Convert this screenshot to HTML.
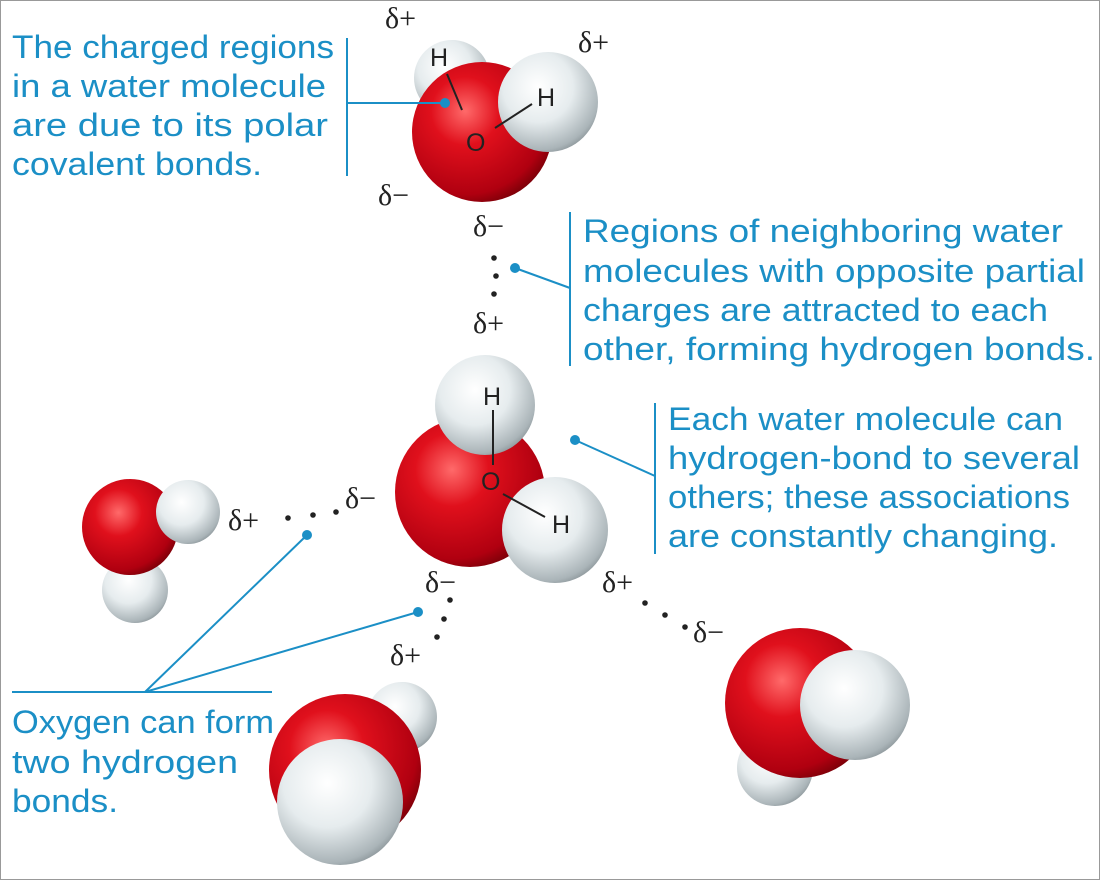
<!DOCTYPE html>
<html><head><meta charset="utf-8"><style>
html,body{margin:0;padding:0;background:#fff}
svg{display:block}
.cap{font-family:"Liberation Sans",sans-serif;font-size:32px;fill:#1b8fc6}
.d{font-family:"Liberation Serif",serif;font-size:30px;fill:#222}
.a{font-family:"Liberation Sans",sans-serif;font-size:25px;fill:#222}
</style></head><body>
<svg width="1100" height="880" viewBox="0 0 1100 880">
<defs>
<radialGradient id="red" cx="0.38" cy="0.35" r="0.7">
<stop offset="0" stop-color="#ff6a6a"/><stop offset="0.35" stop-color="#e0101c"/><stop offset="0.85" stop-color="#b00010"/><stop offset="1" stop-color="#7a0008"/></radialGradient>
<radialGradient id="wh" cx="0.4" cy="0.35" r="0.7">
<stop offset="0" stop-color="#ffffff"/><stop offset="0.5" stop-color="#e6ecee"/><stop offset="0.9" stop-color="#aab4b8"/><stop offset="1" stop-color="#8a9498"/></radialGradient>
</defs>
<rect x="0.5" y="0.5" width="1099" height="879" fill="#fff" stroke="#999"/>

<g>
<circle cx="452" cy="78" r="38" fill="url(#wh)"/>
<circle cx="482" cy="132" r="70" fill="url(#red)"/>
<circle cx="548" cy="102" r="50" fill="url(#wh)"/>
<text class="a" x="430" y="66">H</text><text class="a" x="537" y="106">H</text><text class="a" x="466" y="151">O</text>
<line x1="447" y1="74" x2="462" y2="110" stroke="#222" stroke-width="2"/>
<line x1="532" y1="104" x2="495" y2="128" stroke="#222" stroke-width="2"/>
</g>
<g>
<circle cx="470" cy="492" r="75" fill="url(#red)"/>
<circle cx="485" cy="405" r="50" fill="url(#wh)"/>
<circle cx="555" cy="530" r="53" fill="url(#wh)"/>
<text class="a" x="483" y="405">H</text><text class="a" x="552" y="533">H</text><text class="a" x="481" y="490">O</text>
<line x1="493" y1="410" x2="493" y2="465" stroke="#222" stroke-width="2"/>
<line x1="503" y1="494" x2="545" y2="517" stroke="#222" stroke-width="2"/>
</g>
<g>
<circle cx="135" cy="590" r="33" fill="url(#wh)"/>
<circle cx="130" cy="527" r="48" fill="url(#red)"/>
<circle cx="188" cy="512" r="32" fill="url(#wh)"/>
</g>
<g>
<circle cx="402" cy="717" r="35" fill="url(#wh)"/>
<circle cx="345" cy="770" r="76" fill="url(#red)"/>
<circle cx="340" cy="802" r="63" fill="url(#wh)"/>
</g>
<g>
<circle cx="775" cy="768" r="38" fill="url(#wh)"/>
<circle cx="800" cy="703" r="75" fill="url(#red)"/>
<circle cx="855" cy="705" r="55" fill="url(#wh)"/>
</g>

<g>
<text class="d" x="385" y="28">δ+</text><text class="d" x="578" y="52">δ+</text>
<text class="d" x="378" y="205">δ−</text><text class="d" x="473" y="236">δ−</text>
<text class="d" x="473" y="333">δ+</text><text class="d" x="228" y="530">δ+</text>
<text class="d" x="345" y="508">δ−</text><text class="d" x="425" y="592">δ−</text>
<text class="d" x="390" y="665">δ+</text><text class="d" x="602" y="592">δ+</text>
<text class="d" x="693" y="642">δ−</text>
</g>
<g fill="#222">
<circle cx="494" cy="258" r="2.8"/><circle cx="496" cy="276" r="2.8"/><circle cx="494" cy="294" r="2.8"/>
<circle cx="288" cy="518" r="2.8"/><circle cx="313" cy="515" r="2.8"/><circle cx="336" cy="512" r="2.8"/>
<circle cx="450" cy="600" r="2.8"/><circle cx="444" cy="619" r="2.8"/><circle cx="437" cy="637" r="2.8"/>
<circle cx="645" cy="603" r="2.8"/><circle cx="665" cy="615" r="2.8"/><circle cx="685" cy="627" r="2.8"/>
</g>

<g stroke="#1b8fc6" stroke-width="2" fill="none">
<line x1="347" y1="38" x2="347" y2="176"/><line x1="347" y1="103" x2="445" y2="103"/>
<line x1="570" y1="212" x2="570" y2="366"/><line x1="570" y1="288" x2="515" y2="268"/>
<line x1="655" y1="403" x2="655" y2="554"/><line x1="655" y1="476" x2="575" y2="440"/>
<line x1="12" y1="692" x2="272" y2="692"/><line x1="145" y1="692" x2="307" y2="535"/><line x1="145" y1="692" x2="418" y2="612"/>
</g>
<g fill="#1b8fc6">
<circle cx="445" cy="103" r="5"/><circle cx="515" cy="268" r="5"/><circle cx="575" cy="440" r="5"/>
<circle cx="307" cy="535" r="5"/><circle cx="418" cy="612" r="5"/>
</g>

<text class="cap">
<tspan x="12" y="58" textLength="322" lengthAdjust="spacingAndGlyphs">The charged regions</tspan><tspan x="12" y="97" textLength="314" lengthAdjust="spacingAndGlyphs">in a water molecule</tspan><tspan x="12" y="136" textLength="316" lengthAdjust="spacingAndGlyphs">are due to its polar</tspan><tspan x="12" y="175" textLength="250" lengthAdjust="spacingAndGlyphs">covalent bonds.</tspan></text>
<text class="cap">
<tspan x="583" y="242" textLength="480" lengthAdjust="spacingAndGlyphs">Regions of neighboring water</tspan><tspan x="583" y="282" textLength="502" lengthAdjust="spacingAndGlyphs">molecules with opposite partial</tspan><tspan x="583" y="321" textLength="465" lengthAdjust="spacingAndGlyphs">charges are attracted to each</tspan><tspan x="583" y="360" textLength="512" lengthAdjust="spacingAndGlyphs">other, forming hydrogen bonds.</tspan></text>
<text class="cap">
<tspan x="668" y="430" textLength="395" lengthAdjust="spacingAndGlyphs">Each water molecule can</tspan><tspan x="668" y="469" textLength="412" lengthAdjust="spacingAndGlyphs">hydrogen-bond to several</tspan><tspan x="668" y="508" textLength="402" lengthAdjust="spacingAndGlyphs">others; these associations</tspan><tspan x="668" y="547" textLength="390" lengthAdjust="spacingAndGlyphs">are constantly changing.</tspan></text>
<text class="cap">
<tspan x="12" y="733" textLength="262" lengthAdjust="spacingAndGlyphs">Oxygen can form</tspan><tspan x="12" y="773" textLength="226" lengthAdjust="spacingAndGlyphs">two hydrogen</tspan><tspan x="12" y="812" textLength="106" lengthAdjust="spacingAndGlyphs">bonds.</tspan></text>
</svg>
</body></html>
